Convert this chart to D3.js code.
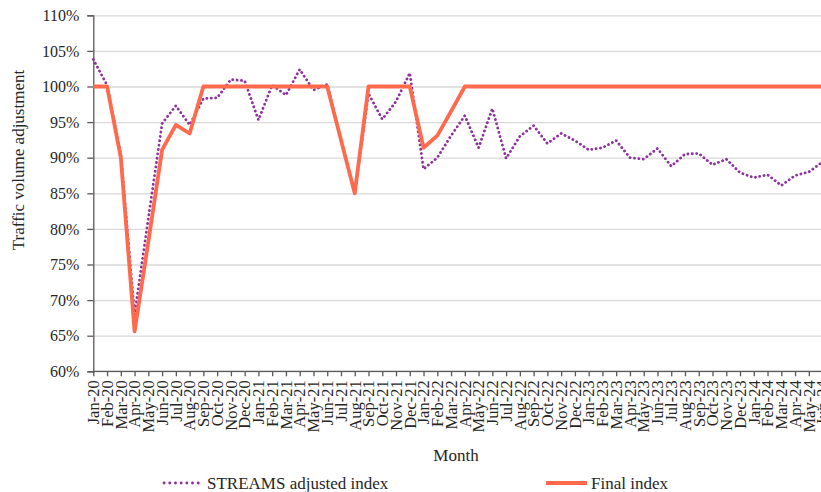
<!DOCTYPE html>
<html>
<head>
<meta charset="utf-8">
<script src="https://cdn.jsdelivr.net/npm/d3@7"></script>
<style>
  body { margin: 0; background: #fff; }
  text { font-family: "Liberation Serif", "Times New Roman", serif; fill: #262626; }
</style>
</head>
<body>
<div id="chart"></div>
<script>
const months = [
  "Jan-20","Feb-20","Mar-20","Apr-20","May-20","Jun-20","Jul-20","Aug-20","Sep-20","Oct-20","Nov-20","Dec-20",
  "Jan-21","Feb-21","Mar-21","Apr-21","May-21","Jun-21","Jul-21","Aug-21","Sep-21","Oct-21","Nov-21","Dec-21",
  "Jan-22","Feb-22","Mar-22","Apr-22","May-22","Jun-22","Jul-22","Aug-22","Sep-22","Oct-22","Nov-22","Dec-22",
  "Jan-23","Feb-23","Mar-23","Apr-23","May-23","Jun-23","Jul-23","Aug-23","Sep-23","Oct-23","Nov-23","Dec-23",
  "Jan-24","Feb-24","Mar-24","Apr-24","May-24","Jun-24"
];

// STREAMS adjusted index (%)
const streams = [
  103.8, 100.2, 90.5, 68.0, 81.5, 94.8, 97.3, 94.6, 98.3, 98.4, 101.0, 100.8,
  95.3, 100.2, 98.8, 102.4, 99.5, 100.3, 92.5, 85.0, 99.0, 95.4, 97.9, 101.9,
  88.4, 90.0, 93.1, 95.9, 91.4, 96.9, 89.9, 93.0, 94.5, 92.0, 93.4, 92.4,
  91.1, 91.4, 92.4, 90.0, 89.8, 91.3, 88.8, 90.5, 90.6, 89.0, 89.8, 87.9,
  87.2, 87.6, 86.1, 87.5, 88.0, 89.4
];

// Final index (%)
const finalIdx = [
  100, 100, 90.0, 65.6, 78.2, 91.1, 94.6, 93.4, 100, 100, 100, 100,
  100, 100, 100, 100, 100, 100, 92.5, 85.0, 100, 100, 100, 100,
  91.4, 93.1, 96.5, 100, 100, 100, 100, 100, 100, 100, 100, 100,
  100, 100, 100, 100, 100, 100, 100, 100, 100, 100, 100, 100,
  100, 100, 100, 100, 100, 100
];

const yTicks = [60, 65, 70, 75, 80, 85, 90, 95, 100, 105, 110];

const width = 821, height = 492;
const plotLeft = 93.3, plotTop = 15.3, plotBottom = 371.3, step = 13.76;

const svg = d3.select("#chart").append("svg")
  .attr("width", width)
  .attr("height", height);

const x = d3.scalePoint()
  .domain(months)
  .range([plotLeft, plotLeft + step * (months.length - 1)]);

const y = d3.scaleLinear().domain([60, 110]).range([plotBottom, plotTop]);

// lineas de grilla
svg.append("g")
  .attr("transform", `translate(${plotLeft},0)`)
  .call(d3.axisLeft(y).tickValues(yTicks).tickSize(-(width - plotLeft + 10)).tickFormat(""))
  .call((g) => g.select(".domain").remove())
  .selectAll("line")
  .attr("stroke", "#d9d9d9")
  .attr("stroke-width", 1.3);

// eje y
const yAxis = svg.append("g")
  .attr("transform", `translate(${plotLeft},0)`)
  .call(d3.axisLeft(y).tickValues(yTicks).tickSize(6).tickPadding(8).tickFormat((d) => d + "%"));
yAxis.select(".domain").attr("stroke", "#595959").attr("stroke-width", 1.3);
yAxis.selectAll("line").attr("stroke", "#595959").attr("stroke-width", 1.3);
yAxis.selectAll("text")
  .style("font-size", "16px")
  .style("font-family", "Liberation Serif");

// eje x (la ultima etiqueta queda cortada en el borde, como en el original)
const xAxis = svg.append("g")
  .attr("transform", `translate(0,${plotBottom})`)
  .call(d3.axisBottom(x).tickSize(5).tickSizeOuter(0));
xAxis.select(".domain").attr("stroke", "#595959").attr("stroke-width", 1.3)
  .attr("d", `M${plotLeft},0H${width + 10}`);
xAxis.selectAll("line").attr("stroke", "#595959").attr("stroke-width", 1.3);
xAxis.selectAll("text")
  .style("font-size", "16.5px")
  .style("font-family", "Liberation Serif")
  .attr("text-anchor", "end")
  .attr("transform", "rotate(-90)")
  .attr("x", -9)
  .attr("y", 0)
  .attr("dy", "0.32em");

// series
const line = (vals) => d3.line()
  .x((d, i) => x(months[i]))
  .y((d) => y(d))(vals);

svg.append("path")
  .attr("d", line(streams))
  .attr("fill", "none")
  .attr("stroke", "#8e309e")
  .attr("stroke-width", 2.8)
  .attr("stroke-linecap", "round")
  .attr("stroke-dasharray", "0.1 4.3");

svg.append("path")
  .attr("d", line(finalIdx))
  .attr("fill", "none")
  .attr("stroke", "#ff6a4d")
  .attr("stroke-width", 3.8)
  .attr("stroke-linejoin", "round");

// titulos de ejes
svg.append("text")
  .attr("transform", "translate(18,160) rotate(-90)")
  .attr("text-anchor", "middle")
  .attr("dy", "0.35em")
  .style("font-size", "17px")
  .text("Traffic volume adjustment");

svg.append("text")
  .attr("x", 456)
  .attr("y", 461)
  .attr("text-anchor", "middle")
  .style("font-size", "17px")
  .text("Month");

// leyenda
const legend = svg.append("g");
legend.append("line")
  .attr("x1", 164).attr("x2", 199).attr("y1", 483).attr("y2", 483)
  .attr("stroke", "#8e309e")
  .attr("stroke-width", 2.8)
  .attr("stroke-linecap", "round")
  .attr("stroke-dasharray", "0.1 5.6");
legend.append("text")
  .attr("x", 207).attr("y", 483).attr("dy", "0.35em")
  .style("font-size", "17px")
  .text("STREAMS adjusted index");
legend.append("line")
  .attr("x1", 546).attr("x2", 587).attr("y1", 483).attr("y2", 483)
  .attr("stroke", "#ff6a4d")
  .attr("stroke-width", 3.8);
legend.append("text")
  .attr("x", 591).attr("y", 483).attr("dy", "0.35em")
  .style("font-size", "17px")
  .text("Final index");
</script>
</body>
</html>
